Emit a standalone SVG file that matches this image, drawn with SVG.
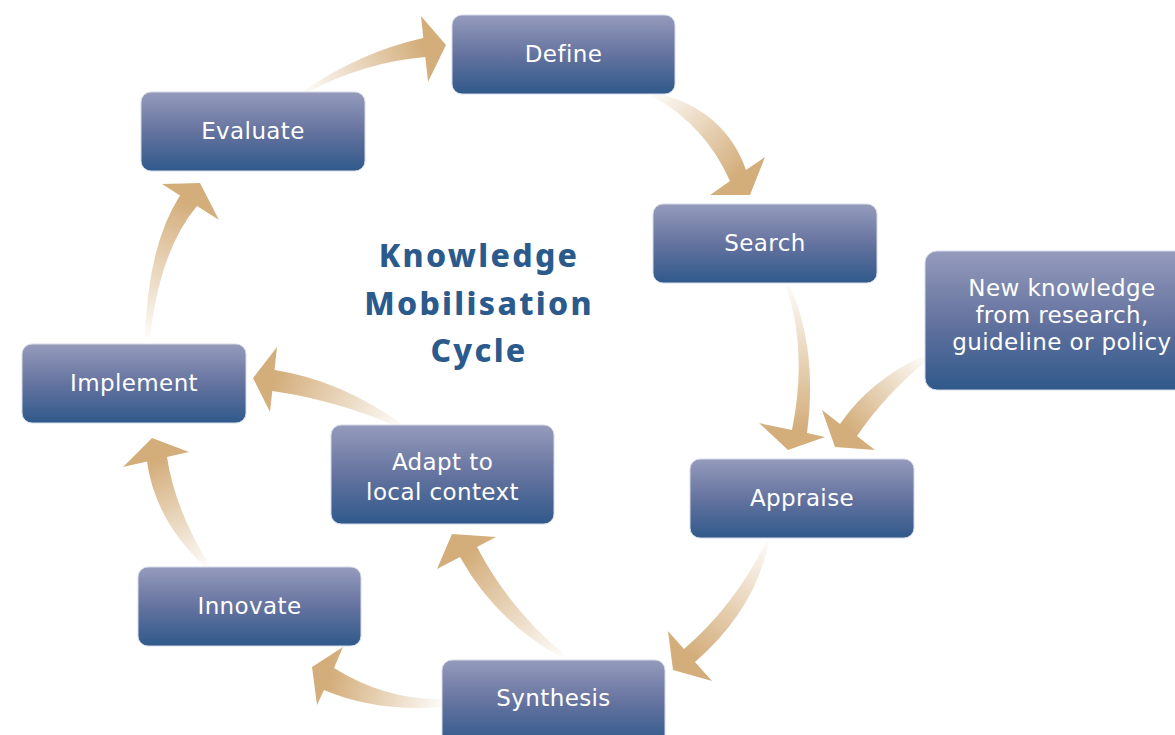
<svg xmlns="http://www.w3.org/2000/svg" xmlns:xlink="http://www.w3.org/1999/xlink" width="1175" height="735" viewBox="0 0 1175 735">
<style>
.box{fill:url(#nodeGrad);stroke:#d6dae8;stroke-width:1}
.lbl{font-family:"DejaVu Sans","Noto Sans","Liberation Sans",sans-serif;font-size:23px;fill:#ffffff;text-anchor:middle;letter-spacing:0.4px}
.title{font-family:"Noto Sans","Open Sans","Liberation Sans",sans-serif;font-size:32px;font-weight:800;fill:#2b5a8c;text-anchor:middle;letter-spacing:2.3px}
</style>
<defs>
<linearGradient id="nodeGrad" x1="0" y1="0" x2="0" y2="1">
<stop offset="0" stop-color="#959bbc"/>
<stop offset="0.5" stop-color="#65739f"/>
<stop offset="1" stop-color="#2f598b"/>
</linearGradient>
<linearGradient id="ag">
<stop offset="0" stop-color="#d3ad7a" stop-opacity="0.05"/>
<stop offset="1" stop-color="#d3ad7a" stop-opacity="1"/>
</linearGradient>
<linearGradient id="a1" href="#ag" xlink:href="#ag" gradientUnits="userSpaceOnUse" x1="305" y1="92" x2="424" y2="48"/>
<linearGradient id="a2" href="#ag" xlink:href="#ag" gradientUnits="userSpaceOnUse" x1="655" y1="94" x2="738" y2="176"/>
<linearGradient id="a3" href="#ag" xlink:href="#ag" gradientUnits="userSpaceOnUse" x1="788" y1="286" x2="800" y2="431"/>
<linearGradient id="a4" href="#ag" xlink:href="#ag" gradientUnits="userSpaceOnUse" x1="925" y1="358" x2="848" y2="430"/>
<linearGradient id="a5" href="#ag" xlink:href="#ag" gradientUnits="userSpaceOnUse" x1="768" y1="542" x2="690" y2="656"/>
<linearGradient id="a6" href="#ag" xlink:href="#ag" gradientUnits="userSpaceOnUse" x1="562" y1="656" x2="468" y2="552"/>
<linearGradient id="a7" href="#ag" xlink:href="#ag" gradientUnits="userSpaceOnUse" x1="442" y1="703" x2="329" y2="679"/>
<linearGradient id="a8" href="#ag" xlink:href="#ag" gradientUnits="userSpaceOnUse" x1="207" y1="566" x2="157" y2="460"/>
<linearGradient id="a9" href="#ag" xlink:href="#ag" gradientUnits="userSpaceOnUse" x1="400" y1="425" x2="273" y2="380"/>
<linearGradient id="a10" href="#ag" xlink:href="#ag" gradientUnits="userSpaceOnUse" x1="147" y1="337" x2="188" y2="201"/>
</defs>
<rect width="1175" height="735" fill="#ffffff"/>
<g id="connectors">
<path fill="url(#a1)" d="M302 92 Q360 52 423.3 38 L421 16 L446 45 L428 82 L425.3 57 Q365 62 308 92 Z"/>
<path fill="url(#a2)" d="M657 93 Q725 110 746 170 L765 157 L750 195 L710 195 L730 181 Q705 125 652 96 Z"/>
<path fill="url(#a3)" d="M786 286 Q808 350 792 430 L759 423 L788 450 L825 437 L807 433 Q818 350 790 286 Z"/>
<path fill="url(#a4)" d="M925 355 Q870 380 840 424 L822 410 L835 447 L875 450 L857 436 Q885 395 925 362 Z"/>
<path fill="url(#a5)" d="M769 542 Q755 610 695 662 L712 681 L673 670 L668 631 L684 649 Q735 605 766 542 Z"/>
<path fill="url(#a6)" d="M560 657 Q495 620 460 557 L437 569 L452 534 L496 537 L477 547 Q510 610 565 655 Z"/>
<path fill="url(#a7)" d="M442 699 Q385 700 334 668 L343 647 L312 667 L317 705 L324 690 Q375 712 442 707 Z"/>
<path fill="url(#a8)" d="M205 567 Q155 520 147 461.5 L123 467 L152 438 L189 452 L167 457 Q175 510 210 566 Z"/>
<path fill="url(#a9)" d="M402 424 Q340 380 274.5 370 L277 347 L253 378 L270 412 L272.3 391 Q335 400 396 426 Z"/>
<path fill="url(#a10)" d="M145 337 Q148 245 180 195.4 L162 184 L200 183 L219 220 L197 206 Q160 250 150 337 Z"/>
</g>
<g id="title">
<text class="title" x="479" y="267"><tspan x="479" y="267">Knowledge</tspan><tspan x="479" y="315">Mobilisation</tspan><tspan x="479" y="362">Cycle</tspan></text>
</g>
<g id="node-define"><rect class="box" x="452" y="15" width="223" height="79" rx="10"/><text class="lbl" x="563.5" y="62">Define</text></g>
<g id="node-evaluate"><rect class="box" x="141" y="92" width="224" height="79" rx="10"/><text class="lbl" x="253" y="139">Evaluate</text></g>
<g id="node-search"><rect class="box" x="653" y="204" width="224" height="79" rx="10"/><text class="lbl" x="765" y="251">Search</text></g>
<g id="node-new"><rect class="box" x="925" y="251" width="274" height="139" rx="12"/><text class="lbl" x="1062" y="296"><tspan x="1062" y="296">New knowledge</tspan><tspan x="1062" y="323">from research,</tspan><tspan x="1062" y="350">guideline or policy</tspan></text></g>
<g id="node-appraise"><rect class="box" x="690" y="459" width="224" height="79" rx="10"/><text class="lbl" x="802" y="506">Appraise</text></g>
<g id="node-implement"><rect class="box" x="22" y="344" width="224" height="79" rx="10"/><text class="lbl" x="134" y="391">Implement</text></g>
<g id="node-adapt"><rect class="box" x="331" y="425" width="223" height="99" rx="10"/><text class="lbl" x="442.5" y="470"><tspan x="442.5" y="470">Adapt to</tspan><tspan x="442.5" y="500">local context</tspan></text></g>
<g id="node-innovate"><rect class="box" x="138" y="567" width="223" height="79" rx="10"/><text class="lbl" x="249.5" y="614">Innovate</text></g>
<g id="node-synthesis"><rect class="box" x="442" y="660" width="223" height="85" rx="10"/><text class="lbl" x="553.5" y="706">Synthesis</text></g>
</svg>
